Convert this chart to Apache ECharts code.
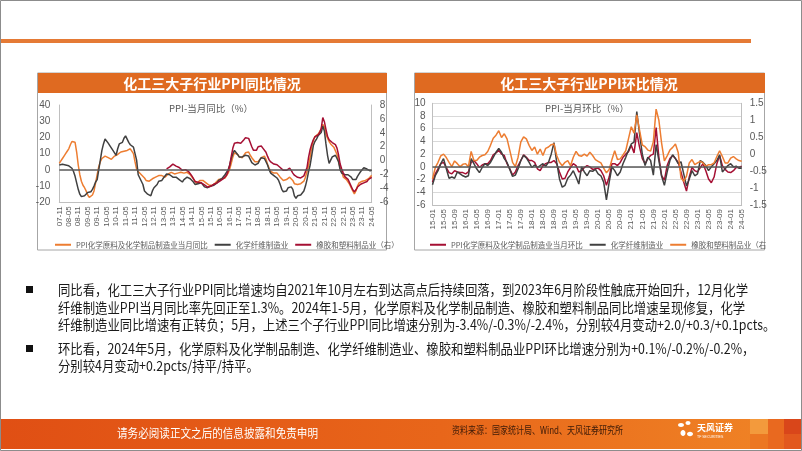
<!DOCTYPE html>
<html><head><meta charset="utf-8">
<script src="https://cdn.jsdelivr.net/npm/echarts@6/dist/echarts.min.js"></script>
<style>html,body{margin:0;padding:0;background:#fff}#c{width:802px;height:451px}</style>
</head><body><div id="c"></div>
<script>
// ---------- categories ----------
const catYoY = []; // 2007-11 .. 2024-05
for (let y = 2007, m = 11; y < 2024 || (y === 2024 && m <= 5); ) {
  catYoY.push(String(y).slice(2) + '-' + String(m).padStart(2, '0'));
  m++; if (m > 12) { m = 1; y++; }
}
const catMoM = []; // 2015-01 .. 2024-05
for (let y = 2015, m = 1; y < 2024 || (y === 2024 && m <= 5); ) {
  catMoM.push(String(y).slice(2) + '-' + String(m).padStart(2, '0'));
  m++; if (m > 12) { m = 1; y++; }
}

// ---------- left chart: YoY (%) ----------
const yoyChem = [
  4.0, 5.5,
  7, 8.5, 10, 11.5, 13, 15.5, 17.5, 18.2, 17, 11, 3, -3,
  -7, -9.5, -11, -13, -15.5, -17, -16.5, -15.5, -13, -8, -3, 2,
  5, 7, 8, 8.5, 8, 7.5, 7, 6.5, 7.5, 8.5, 8, 9.5,
  10.5, 11, 11, 11.5, 11.5, 12, 12.5, 13, 13.5, 10, 5, 0.5,
  -1, -2, -3, -4, -5, -6.5, -7, -7, -6.5, -5.5, -5, -4.5,
  -4, -3.5, -3, -3.5, -4, -4.5, -3.5, -2.5, -1.5, -1.5, -2, -2.5,
  -2.5, -2, -1.5, -1.5, -2, -2, -1.5, -1.5, -2, -3, -4, -5.5,
  -7, -8.5, -7.5, -6.5, -7, -6.5, -7, -8, -9, -9.5, -9, -9.5,
  -9, -8, -7, -6, -6, -5.5, -5.5, -5, -4, -2, 0.5, 4,
  8, 10.5, 11, 9.5, 8, 7, 7.5, 9, 10.5, 11.5, 11, 9,
  7.5, 6.5, 5, 4.5, 5, 6, 7.5, 8.5, 8.5, 6.5, 3.5, 1,
  -1, -1.5, -2, -1.5, -2, -3, -4.5, -5.5, -6.5, -7.5, -6, -5,
  -4.5, -5, -6.5, -8.5, -9.5, -9, -8.5, -8.5, -8, -7, -4.5, -1,
  3, 8, 14, 18, 20.5, 21, 22, 23.5, 25.5, 28, 26.5, 22,
  19.5, 17.5, 16, 15.5, 14, 13, 9.5, 5, 1.5, -1, -4.5, -5.5,
  -6, -7, -9, -11, -13, -14.8, -13, -10, -8, -7.5, -7, -7,
  -6.5, -6, -5.5, -5.4, -3.4
];
const yoyFiber = [
  3, 3.5,
  3.5, 3.5, 3, 3, 2.5, 2, 1, -1, -4, -8, -12, -15,
  -16.5, -17, -16, -15, -14, -13, -13.5, -12, -10, -7.5, -6, 0,
  6, 12, 16, 19, 18, 16.5, 15, 14, 12, 10.5, 9, 13,
  16, 15, 17, 19.5, 21, 19, 17, 15.5, 16, 14, 14.5, 6,
  -3, -5, -6, -9, -13, -14, -15, -16, -16, -13, -11, -10,
  -9, -7, -6, -6.5, -5, -4, -2.5, -2, -3, -4, -4.5, -4,
  -4.5, -5.5, -6, -7, -7.5, -6, -5, -4.5, -5, -5.5, -6, -7.5,
  -9, -9.5, -8.5, -8, -8, -9, -10.5, -11.5, -11, -10.5, -10, -10,
  -9.5, -9.5, -8, -6.5, -6, -5.5, -4.5, -3, -2, 0, 3, 7,
  10, 12, 11, 9.5, 8, 7.5, 8, 8.5, 9, 10, 8.5, 6.5,
  4.5, 3.5, 3, 3, 4, 6, 7.5, 8, 7, 5, 3, 0,
  -2, -3, -3.5, -4, -5, -6.5, -9, -12, -13.5, -14, -13, -11,
  -10, -10.5, -12, -16, -17.5, -16, -15, -15.5, -15, -13, -10, -6,
  -1, 3, 9, 15, 17.5, 19, 21, 22, 23, 27, 24, 16,
  9, 4, 6, 8, 7, 9, 10, 5, 0, -2, -3, -3,
  -2.5, -3, -3, -4.5, -6, -7, -6, -4, -2.5, -1, 0, 1.3,
  1, 0.5, 0.5, -0.6, -0.3
];
const yoyRubber = [ // right axis, starts 2013-07
  null, null,
  null, null, null, null, null, null, null, null, null, null, null, null,
  null, null, null, null, null, null, null, null, null, null, null, null,
  null, null, null, null, null, null, null, null, null, null, null, null,
  null, null, null, null, null, null, null, null, null, null, null, null,
  null, null, null, null, null, null, null, null, null, null, null, null,
  null, null, null, null, null, null, -1.2, -1.1, -0.9, -0.7, -0.5, -0.6,
  -0.8, -0.9, -1.0, -1.2, -1.4, -1.3, -1.3, -1.4, -1.6, -1.9, -2.2, -2.6,
  -3.0, -3.2, -3.1, -3.0, -3.2, -3.3, -3.5, -3.7, -3.8, -3.7, -3.7, -3.5,
  -3.4, -3.3, -3.2, -3.0, -2.9, -2.8, -2.6, -2.4, -2.1, -1.5, -0.7, 0.6,
  1.8, 2.5, 2.7, 2.6, 2.6, 2.5, 2.7, 3.0, 3.3, 3.5, 3.2, 2.6,
  2.0, 1.5, 1.3, 1.5, 2.0, 2.2, 2.1, 1.8, 1.6, 1.2, 0.6, 0.1,
  -0.2, -0.3, -0.5, -0.5, -0.6, -0.8, -1.0, -1.2, -1.4, -1.5, -1.4, -1.2,
  -1.1, -1.4, -1.8, -2.1, -2.3, -2.4, -2.5, -2.5, -2.4, -2.2, -2.0, -1.0,
  0.5, 1.6, 2.4, 3.0, 3.4, 3.5, 3.7, 4.0, 4.6, 6.2, 5.6, 4.5,
  3.5, 3.0, 2.8, 2.6, 2.5, 2.3, 1.8, 0.8, -0.5, -1.2, -1.8, -2.3,
  -2.5, -2.7, -3.2, -3.7, -4.2, -4.5, -4.2, -3.8, -3.6, -3.4, -3.3, -3.2,
  -3.1, -3.0, -2.7, -2.5, -2.4
];

// ---------- right chart: MoM (%) ----------
const momChem = [
  -2.4, -1.1, -0.3, 0.5, 0.7, -0.1, -0.9, -1.1, -0.6, -0.8, -0.9, -0.9,
  -1.1, -0.8, 0.7, 1.0, 0.5, -0.1, 0.3, 0.5, 0.5, 1.0, 1.9, 2.2,
  2.6, 2.0, 1.8, 0.5, -0.3, -1.3, -0.8, 0.2, 1.0, 1.9, 1.5, 1.0,
  1.0, 0.7, -0.3, -0.6, 0.2, 0.5, 0.7, 0.7, 1.0, 0.5, -0.8, -1.9,
  -1.8, -0.8, -0.1, 0.5, 0.2, -0.8, -0.6, -0.1, 0.2, 0.0, -0.4, -0.3,
  -0.2, -0.6, -1.4, -2.9, -1.6, 0.5, 0.5, 0.2, 0.7, 1.5, 2.0, 2.4,
  3.4, 2.2, 5.4, 3.1, 1.3, 0.5, 1.3, 1.8, 2.0, 6.2, 1.5, -1.4,
  -2.1, 0.2, 1.3, 1.8, 1.3, 0.7, -0.8, -2.4, -3.8, -1.6, -0.1, -0.6,
  -0.8, -0.1, 0.5, -0.6, -1.9, -2.5, -1.6, 0.5, 1.8, 0.2, -0.4, -0.8,
  -0.9, -0.6, -0.1, -0.1, 0.1
];
const momFiber = [
  -2.8, -1.4, -0.6, 0.5, 1.3, -0.3, -1.8, -1.6, -1.8, -0.8, -1.1, -1.4,
  -1.6, -1.4, 1.3, 0.5, -0.3, -0.9, -0.1, 0.5, 0.2, 0.7, 1.5, 2.3,
  2.9, 2.3, 1.3, 0.7, -0.4, -1.5, -1.3, -0.3, 1.0, 1.8, 1.4, 0.7,
  -0.1, 0.3, -0.1, 0.2, 0.5, 0.1, 0.7, 2.0, 3.8, 0.7, -1.9, -3.2,
  -2.9, -1.8, -1.3, -0.6, -1.6, -2.7, 0.0, -0.8, -1.4, -0.6, -0.7, -0.4,
  -1.1, -1.4, -2.4, -5.2, -2.4, 0.0, -0.6, -1.4, -0.8, 0.5, 1.5, 2.6,
  3.6, 3.9, 8.7, 5.2, 2.0, 0.2, 1.5, 1.0, -1.3, 3.5, 1.0, -1.5,
  -2.9, -0.8, 1.0, 1.9, 1.3, 0.5, 0.8, -1.1, -3.0, -1.9, -0.6, -1.4,
  -1.1, 1.0, 0.7, 0.2, -0.6, 0.0, 0.5, 1.0, 1.9, -0.8, -0.3, 0.2,
  0.5, 0.0, 0.1, -0.2, -0.2
];
const momRubber = [ // right axis
  -0.73, -0.4, -0.24, -0.05, 0.0, -0.1, -0.24, -0.37, -0.2, -0.28, -0.37, -0.3,
  -0.28, -0.37, 0.08, -0.19, -0.19, -0.09, -0.04, -0.02, 0.08, 0.26, 0.47, 0.56,
  0.69, 0.49, 0.6, 0.45, 0.11, -0.24, -0.37, -0.09, 0.36, 0.51, 0.45, 0.26,
  0.11, 0.21, 0.0, 0.15, -0.04, 0.17, 0.21, 0.28, 0.3, -0.04, -0.24, -0.34,
  -0.24, -0.19, -0.34, -0.09, 0.08, -0.04, -0.06, 0.0, -0.06, 0.06, -0.04, -0.16,
  -0.21, -0.26, -0.41, -0.55, -0.45, -0.16, 0.1, -0.16, -0.14, -0.02, 0.1, 0.46,
  0.81, 0.62, 1.16, 0.71, 0.27, 0.22, 0.12, 0.09, 0.37, 1.33, 1.0, 0.32,
  -0.2, -0.05, 0.12, 0.2, 0.3, 0.05, -0.7, -0.8, -0.65, -0.26, -0.16, -0.31,
  -0.26, -0.21, -0.26, -0.36, -0.31, -0.31, -0.26, -0.07, 0.1, -0.07, -0.26, -0.26,
  -0.12, -0.07, -0.14, -0.19, -0.21
];

// ---------- texts ----------
const titleL = '化工三大子行业PPI同比情况';
const titleR = '化工三大子行业PPI环比情况';
const subL = 'PPI-当月同比（%）';
const subR = 'PPI-当月环比（%）';
const nameL1 = 'PPI化学原料及化学制品制造业当月同比';
const nameFiber = '化学纤维制造业';
const nameL3 = '橡胶和塑料制品业（右）';
const nameR1 = 'PPI化学原料及化学制品制造业当月环比';
const nameR3 = '橡胶和塑料制品业（右';
const bodyLines = [
  '同比看，化工三大子行业PPI同比增速均自2021年10月左右到达高点后持续回落，到2023年6月阶段性触底开始回升，12月化学',
  '纤维制造业PPI当月同比率先回正至1.3%。2024年1-5月，化学原料及化学制品制造、橡胶和塑料制品同比增速呈现修复，化学',
  '纤维制造业同比增速有正转负；5月，上述三个子行业PPI同比增速分别为-3.4%/-0.3%/-2.4%，分别较4月变动+2.0/+0.3/+0.1pcts。',
  '环比看，2024年5月，化学原料及化学制品制造、化学纤维制造业、橡胶和塑料制品业PPI环比增速分别为+0.1%/-0.2%/-0.2%，',
  '分别较4月变动+0.2pcts/持平/持平。'
];
const footL = '请务必阅读正文之后的信息披露和免责申明';
const footR = '资料来源：国家统计局、Wind、天风证券研究所';

// ---------- helpers ----------
const CJK = '"Noto Sans CJK SC", "Noto Sans", sans-serif';
const mctx = document.createElement('canvas').getContext('2d');
function fit(text, font, w) { mctx.font = font; return w / mctx.measureText(text).width; }

const ORANGE = '#ED7D31', GRAY = '#404040', CRIMSON = '#A50F33';
const AX = '#595959';

const bodyFont = '14px ' + CJK;
const bodyScale = fit(bodyLines[0], bodyFont, 690);
const bodyY = [290, 308, 325, 349, 366];

const footFontL = '12px ' + CJK;
const footFontR = '10px ' + CJK;

const chart = echarts.init(document.getElementById('c'), null, { renderer: 'canvas' });

const xAxisBase = (gi, data, interval) => ({
  type: 'category', gridIndex: gi, data: data, boundaryGap: false,
  axisLine: { show: true, onZero: false, lineStyle: { color: '#bfbfbf', width: 1 } },
  axisTick: { show: false },
  axisLabel: { interval: interval, rotate: 90, fontSize: 8, color: AX, margin: 4, fontFamily: 'Liberation Sans' },
  splitLine: { show: false }
});
const yAxisBase = (gi, pos, min, max, interval, grid, margin) => ({
  type: 'value', gridIndex: gi, position: pos, min: min, max: max, interval: interval,
  axisLine: { show: true, lineStyle: { color: '#bfbfbf' } },
  axisTick: { show: false },
  axisLabel: { fontSize: 10, color: AX, margin: margin, fontFamily: 'Liberation Sans' },
  splitLine: { show: grid, lineStyle: { color: '#d9d9d9', width: 1 } }
});
const lineS = (name, data, color, xi, yi, extra) => Object.assign({
  name: name, type: 'line', data: data, xAxisIndex: xi, yAxisIndex: yi,
  showSymbol: false, symbol: 'none', connectNulls: false,
  lineStyle: { color: color, width: 1.5 }, itemStyle: { color: color }
}, extra || {});
const zeroLine = {
  silent: true, symbol: 'none', label: { show: false },
  lineStyle: { color: '#595959', width: 1.5, type: 'solid' },
  data: [{ yAxis: 0 }]
};

const graphics = [];
// slide border and top line
graphics.push({ type: 'rect', shape: { x: 0.5, y: 0.5, width: 801, height: 450 }, style: { fill: null, stroke: '#8c8c8c', lineWidth: 1 }, z: 100 });
graphics.push({ type: 'rect', shape: { x: 0, y: 39, width: 751, height: 4 }, style: { fill: '#E57A35' } });
// panels
[[38, 349, titleL, 212], [415, 350, titleR, 589]].forEach(p => {
  graphics.push({ type: 'rect', shape: { x: p[0] - 0.5, y: 73, width: p[1], height: 177 }, style: { fill: null, stroke: '#a6a6a6', lineWidth: 1 } });
  graphics.push({ type: 'rect', shape: { x: p[0], y: 73, width: p[1], height: 20 }, style: { fill: '#DF6A21' } });
  graphics.push({ type: 'text', x: p[3], y: 83.5, style: { text: p[2], fill: '#fff', font: 'bold 14px ' + CJK, align: 'center', verticalAlign: 'middle' } });
});
graphics.push({ type: 'text', x: 211, y: 108, style: { text: subL, fill: AX, font: '9.5px ' + CJK, align: 'center', verticalAlign: 'middle' } });
graphics.push({ type: 'text', x: 587, y: 108, style: { text: subR, fill: AX, font: '9.5px ' + CJK, align: 'center', verticalAlign: 'middle' } });
// bullets and body text
graphics.push({ type: 'rect', shape: { x: 26, y: 286, width: 7, height: 7 }, style: { fill: '#111' } });
graphics.push({ type: 'rect', shape: { x: 26, y: 345, width: 7, height: 7 }, style: { fill: '#111' } });
bodyLines.forEach((t, i) => {
  graphics.push({ type: 'text', x: 58, y: bodyY[i], scaleX: bodyScale, style: { text: t, fill: '#1a1a1a', font: bodyFont, verticalAlign: 'middle' } });
});
// footer
graphics.push({ type: 'rect', shape: { x: 0, y: 419, width: 802, height: 30 }, style: {
  fill: new echarts.graphic.LinearGradient(0, 0, 1, 0, [
    { offset: 0, color: '#E04F14' }, { offset: 0.55, color: '#E8661A' }, { offset: 1, color: '#F08526' }]) } });
graphics.push({ type: 'rect', shape: { x: 750, y: 419, width: 18, height: 15 }, style: { fill: '#F39A3C' } });
graphics.push({ type: 'rect', shape: { x: 750, y: 434, width: 18, height: 15 }, style: { fill: '#EC7722' } });
graphics.push({ type: 'rect', shape: { x: 768, y: 419, width: 16, height: 30 }, style: { fill: '#E9691F' } });
graphics.push({ type: 'rect', shape: { x: 784, y: 419, width: 17, height: 15 }, style: { fill: '#D9461A' } });
graphics.push({ type: 'rect', shape: { x: 784, y: 434, width: 17, height: 15 }, style: { fill: '#E2581E' } });
graphics.push({ type: 'text', x: 117, y: 433, scaleX: fit(footL, footFontL, 201), style: { text: footL, fill: '#fff', font: footFontL, verticalAlign: 'middle' } });
graphics.push({ type: 'text', x: 452, y: 430, scaleX: fit(footR, footFontR, 171), style: { text: footR, fill: '#3b1a08', font: footFontR, verticalAlign: 'middle' } });
// logo
[[681, 425, 3, 2], [688, 423, 2.5, 2], [683, 433, 2.5, 3], [690, 434, 3, 2.2]].forEach(e => {
  graphics.push({ type: 'ellipse', shape: { cx: e[0], cy: e[1], rx: e[2], ry: e[3] }, style: { fill: '#fff' } });
});
graphics.push({ type: 'text', x: 697, y: 428, style: { text: '天风证券', fill: '#fff', font: 'bold 9px ' + CJK, verticalAlign: 'middle' } });
graphics.push({ type: 'text', x: 697, y: 437, style: { text: 'TF SECURITIES', fill: '#fff', font: '3.5px "Liberation Sans"', verticalAlign: 'middle' } });

const legendText = { fontSize: 7.5, color: AX, fontFamily: CJK };
const option = {
  animation: false,
  backgroundColor: '#ffffff',
  grid: [
    { left: 59.3, right: 430.3, top: 105, bottom: 248.7, containLabel: false },
    { left: 432.5, right: 60.3, top: 103.3, bottom: 246, containLabel: false }
  ],
  xAxis: [xAxisBase(0, catYoY, 5), xAxisBase(1, catMoM, 3)],
  yAxis: [
    yAxisBase(0, 'left', -20, 40, 10, false, 9),
    yAxisBase(0, 'right', -6, 8, 2, false, 8),
    yAxisBase(1, 'left', -6, 10, 2, true, 7),
    yAxisBase(1, 'right', -1.5, 1.5, 0.5, false, 8)
  ],
  legend: [
    { data: [nameL1, nameFiber, nameL3], left: 50, top: 236, icon: 'rect', itemWidth: 16, itemHeight: 2, itemGap: 7,
      textStyle: legendText, selectedMode: false },
    { data: [nameR1, nameFiber, nameR3], left: 425, top: 236, icon: 'rect', itemWidth: 16, itemHeight: 2, itemGap: 7,
      textStyle: legendText, selectedMode: false }
  ],
  series: [
    lineS(nameL1, yoyChem, ORANGE, 0, 0, { markLine: zeroLine }),
    lineS(nameFiber, yoyFiber, GRAY, 0, 0),
    lineS(nameL3, yoyRubber, CRIMSON, 0, 1),
    lineS(nameR1, momChem, CRIMSON, 1, 2, { markLine: zeroLine }),
    lineS(nameFiber, momFiber, GRAY, 1, 2),
    lineS(nameR3, momRubber, ORANGE, 1, 3)
  ],
  graphic: { elements: graphics }
};
chart.setOption(option);
</script></body></html>
